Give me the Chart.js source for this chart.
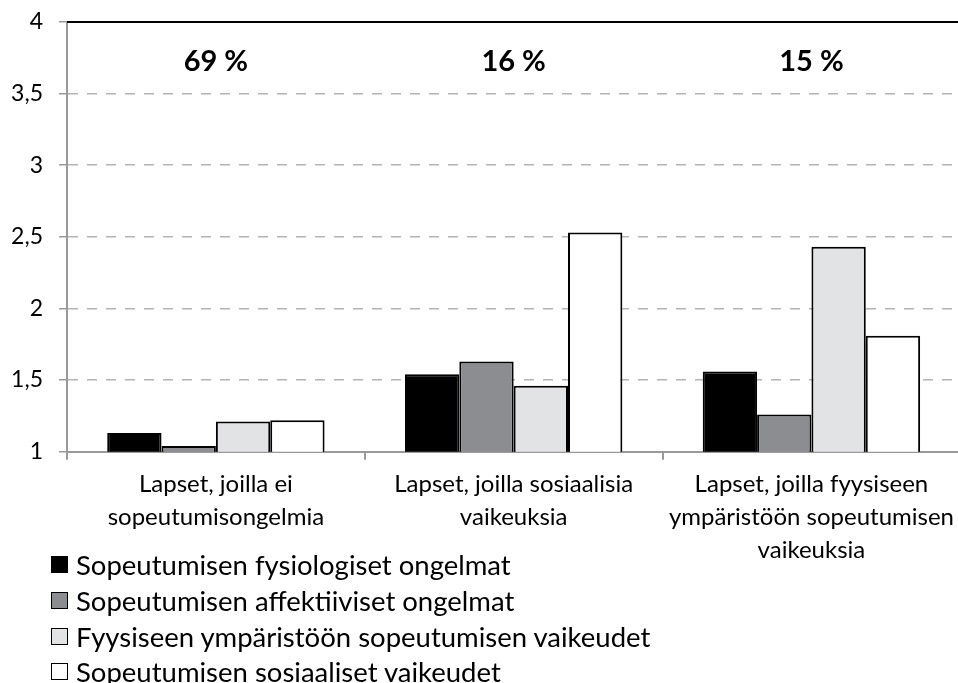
<!DOCTYPE html>
<html lang="fi">
<head>
<meta charset="utf-8">
<title>Sopeutumisen ongelmat</title>
<script src="https://cdn.jsdelivr.net/npm/chart.js@4.4.1/dist/chart.umd.min.js"></script>
<style>
  body { margin: 0; background: #fff; overflow: hidden; }
  #wrap { position: relative; width: 958px; height: 683px; overflow: hidden; }
  #legend { position: absolute; left: 51px; top: 547px; list-style: none; margin: 0; padding: 0;
            font-family: Lato, "Open Sans", sans-serif; font-size: 27.5px; color: #000; }
  #legend li { display: flex; align-items: center; height: 35.7px; white-space: nowrap; }
  #legend .box { width: 15px; height: 15px; border: 1.5px solid #000; margin-right: 8px; flex: none; }
</style>
</head>
<body>
<div id="wrap">
  <canvas id="chart" width="962" height="683"></canvas>
  <ul id="legend"></ul>
</div>
<script>
const categories = [
  ["Lapset, joilla ei", "sopeutumisongelmia"],
  ["Lapset, joilla sosiaalisia", "vaikeuksia"],
  ["Lapset, joilla fyysiseen", "ympäristöön sopeutumisen", "vaikeuksia"]
];
const seriesNames = [
  "Sopeutumisen fysiologiset ongelmat",
  "Sopeutumisen affektiiviset ongelmat",
  "Fyysiseen ympäristöön sopeutumisen vaikeudet",
  "Sopeutumisen sosiaaliset vaikeudet"
];
const fysiologiset = [1.13, 1.54, 1.56];
const affektiiviset = [1.04, 1.63, 1.26];
const ymparisto = [1.21, 1.46, 2.43];
const sosiaaliset = [1.22, 2.53, 1.81];
const shares = ["69 %", "16 %", "15 %"];
const yTicks = [1, 1.5, 2, 2.5, 3, 3.5, 4];

const fills = ["#000000", "#8c8d90", "#e2e3e5", "#ffffff"];
const FONT = "Lato, 'Open Sans', sans-serif";

// top frame line + percentage shares above each group
const extras = {
  id: "extras",
  afterDraw(chart) {
    const { ctx, chartArea, scales } = chart;
    ctx.save();
    ctx.strokeStyle = "#000";
    ctx.lineWidth = 2;
    ctx.beginPath();
    ctx.moveTo(chartArea.left, chartArea.top);
    ctx.lineTo(chartArea.right, chartArea.top);
    ctx.stroke();

    ctx.font = "bold 29px " + FONT;
    ctx.fillStyle = "#000";
    ctx.textAlign = "center";
    ctx.textBaseline = "middle";
    shares.forEach((s, i) => {
      ctx.fillText(s, scales.x.getPixelForValue(i), scales.y.getPixelForValue(3.72));
    });
    ctx.restore();
  }
};

const series = [fysiologiset, affektiiviset, ymparisto, sosiaaliset];

const chart = new Chart(document.getElementById("chart"), {
  type: "bar",
  data: {
    labels: categories,
    datasets: series.map((vals, i) => ({
      label: seriesNames[i],
      data: vals,
      backgroundColor: fills[i],
      borderColor: "#000",
      borderWidth: 2,
      categoryPercentage: 0.73,
      barPercentage: 1
    }))
  },
  options: {
    responsive: false,
    animation: false,
    layout: { padding: { top: 22, left: 12, right: 0, bottom: 108 } },
    plugins: {
      legend: { display: false },
      tooltip: { enabled: false }
    },
    scales: {
      x: {
        grid: { drawOnChartArea: false, color: "#9a9a9a", tickLength: 8, lineWidth: 2 },
        border: { color: "#9a9a9a", width: 2 },
        ticks: {
          color: "#000",
          font: { family: FONT, size: 24, lineHeight: 1.38 },
          maxRotation: 0,
          autoSkip: false,
          padding: 8
        }
      },
      y: {
        min: 1,
        max: 4,
        afterBuildTicks: axis => { axis.ticks = yTicks.map(v => ({ value: v })); },
        afterFit: axis => { axis.width = 55; axis.paddingTop = 0; },
        grid: { color: "#b4b4b4", lineWidth: 1.5, tickLength: 8, tickColor: "#9a9a9a" },
        border: { color: "#9a9a9a", width: 2, dash: [10, 9] },
        ticks: {
          color: "#000",
          font: { family: FONT, size: 23 },
          padding: 16,
          callback: v => String(v).replace(".", ",")
        }
      }
    }
  },
  plugins: [extras]
});

const legend = document.getElementById("legend");
chart.data.datasets.forEach(ds => {
  const li = document.createElement("li");
  const box = document.createElement("span");
  box.className = "box";
  box.style.background = ds.backgroundColor;
  li.appendChild(box);
  li.appendChild(document.createTextNode(ds.label));
  legend.appendChild(li);
});
</script>
</body>
</html>
